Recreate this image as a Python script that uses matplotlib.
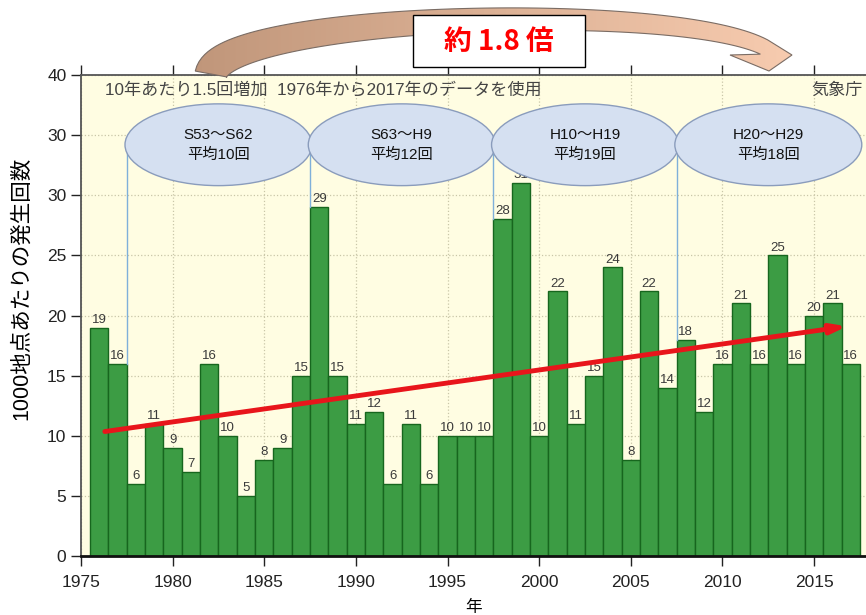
import numpy as np
import matplotlib
matplotlib.use('Agg')
import matplotlib.pyplot as plt
from matplotlib.patches import Ellipse, Polygon, Rectangle

plt.rcParams['font.family'] = ['Liberation Sans', 'Noto Sans CJK JP', 'DejaVu Sans']

# data: counts per 1000 stations, 1976-2017
years = np.arange(1976, 2018)
counts = [19, 16, 6, 11, 9, 7, 16, 10, 5, 8, 9, 15, 29, 15, 11, 12, 6, 11, 6, 10,
          10, 10, 28, 31, 10, 22, 11, 15, 24, 8, 22, 14, 18, 12, 16, 21, 16, 25,
          16, 20, 21, 16]

# period averages (ellipses)
period_names = ['S53〜S62', 'S63〜H9', 'H10〜H19', 'H20〜H29']
period_start = [1978, 1988, 1998, 2008]
period_end = [1987, 1997, 2007, 2017]
period_avg = [10, 12, 19, 18]

# trend arrow ends
trend_x = [1976.3, 2016.8]
trend_y = [10.35, 19.1]

yticks = [0, 5, 10, 15, 20, 25, 30, 35, 40]
ytick_labels = ['0', '5', '10', '15', '20', '25', '30', '30', '40']
xticks = [1975, 1980, 1985, 1990, 1995, 2000, 2005, 2010, 2015]

fig = plt.figure(figsize=(8.66, 6.15), dpi=100)
ax = fig.add_axes([81/866, 1-556/615, 785/866, 481/615])
ax.set_facecolor('#fffde2')

ax.bar(years, counts, width=1.0, color='#3c9c44', edgecolor='#17661e', linewidth=1.0, zorder=2)
for x, v in zip(years, counts):
    ax.text(x, v + 0.15, str(v), ha='center', va='bottom', fontsize=9.5, color='#3a3a3a', zorder=3)

ax.set_xlim(1975, 2017.83)
ax.set_ylim(0, 40)
ax.set_xticks(xticks)
ax.set_yticks(yticks)
ax.set_yticklabels(ytick_labels)
ax.tick_params(axis='both', labelsize=12.5, colors='#222222', length=7, width=1, direction='out')
ax.tick_params(axis='x', top=True, pad=7)
ax.grid(True, linestyle=':', color='#c9c6a8', linewidth=0.9)
ax.set_axisbelow(True)
for s in ['top', 'left']:
    ax.spines[s].set_color('#555555')
    ax.spines[s].set_linewidth(1.3)
ax.spines['bottom'].set_color('#111111')
ax.spines['bottom'].set_linewidth(2)
ax.spines['right'].set_visible(False)

ax.set_ylabel('1000地点あたりの発生回数', fontsize=15.5)
ax.yaxis.set_label_coords(-0.0624, 0.557)
ax.set_xlabel('年', fontsize=12, labelpad=7)

# ellipses and connector lines
ey = 34.2
for name, s, e, a in zip(period_names, period_start, period_end, period_avg):
    cx = (s + e) / 2
    ax.add_patch(Ellipse((cx, ey), e - s + 1.2, 6.8, facecolor='#d5e0f1', edgecolor='#8a9cbc',
                         linewidth=1.0, zorder=4))
    ax.text(cx, ey, name + '\n平均' + str(a) + '回', ha='center', va='center', fontsize=11,
            linespacing=1.5, color='#111111', zorder=5)
    xl = s - 0.5
    top = max(counts[list(years).index(s - 1)], counts[list(years).index(s)])
    ax.plot([xl, xl], [top, ey], color='#7fb0da', linewidth=1.0, zorder=3)

# red trend arrow
ax.annotate('', xy=(trend_x[1], trend_y[1]), xytext=(trend_x[0], trend_y[0]),
            arrowprops=dict(arrowstyle='-|>,head_width=0.28,head_length=0.9', color='#e8151b',
                            lw=3.5, shrinkA=0, shrinkB=0), zorder=6)

ax.text(0.0306, 0.969, '10年あたり1.5回増加  1976年から2017年のデータを使用', transform=ax.transAxes,
        ha='left', va='center', fontsize=12.3, color='#444444')
ax.text(0.996, 0.969, '気象庁', transform=ax.transAxes, ha='right', va='center', fontsize=12.3,
        color='#444444')

# overlay for the big curved arrow and the box (pixel coords, y down)
ov = fig.add_axes([0, 0, 1, 1], zorder=10)
ov.axis('off')

p0, p1, p2, p3 = map(np.array, [(211, 74), (222, 15), (670, 0), (764, 47)])
t = np.linspace(0, 1, 80)[:, None]
c = (1-t)**3*p0 + 3*(1-t)**2*t*p1 + 3*(1-t)*t**2*p2 + t**3*p3
d = 3*(1-t)**2*(p1-p0) + 6*(1-t)*t*(p2-p1) + 3*t**2*(p3-p2)
nrm = np.column_stack([d[:, 1], -d[:, 0]]) / np.hypot(d[:, 0], d[:, 1])[:, None]
half = (16*(1-t) + 8*t)
outer = c + nrm*half
inner = c - nrm*half
if outer[40, 1] > inner[40, 1]:
    outer, inner = inner, outer
head = np.array([(792, 55), (769, 71), (730, 55)])
shape = np.vstack([outer, head, inner[::-1]])
big = Polygon(shape, closed=True, facecolor='none', edgecolor='#7a6c64', linewidth=0.8, zorder=2)
ov.add_patch(big)
grad = np.linspace(0, 1, 256).reshape(1, -1)
cmap = matplotlib.colors.LinearSegmentedColormap.from_list('g', ['#c0967a', '#f8ccb0'])
im = ov.imshow(grad, extent=(190, 800, 80, 0), cmap=cmap, aspect='auto', zorder=1)
im.set_clip_path(big)
ov.set_xlim(0, 866)
ov.set_ylim(615, 0)
ov.add_patch(Rectangle((413, 15), 172, 52, facecolor='white', edgecolor='black', linewidth=1.0, zorder=3))
ov.text(499, 42, '約 1.8 倍', ha='center', va='center', fontsize=20, color='#ff0000',
        fontweight='bold', zorder=4, family=['Noto Sans CJK JP'])

fig.savefig('out.png', dpi=100)
